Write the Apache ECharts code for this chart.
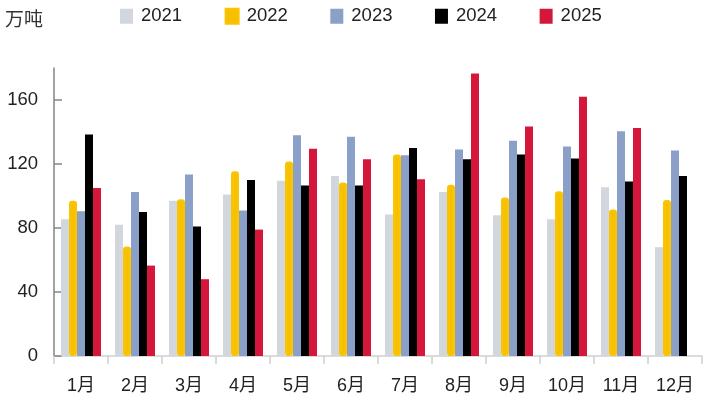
<!DOCTYPE html>
<html>
<head>
<meta charset="utf-8">
<script src="https://cdn.jsdelivr.net/npm/echarts@6/dist/echarts.min.js"></script>
<style>
html,body{margin:0;padding:0;background:#fff;}
#c{width:704px;height:404px;}
</style>
</head>
<body>
<div id="c"></div>
<script>
var months = ['1月','2月','3月','4月','5月','6月','7月','8月','9月','10月','11月','12月'];
var seriesNames = ['2021','2022','2023','2024','2025'];
var v2021 = [85.5, 82, 97, 101, 109.5, 112.5, 88.5, 102.5, 88, 85.5, 105.5, 68];
var v2022 = [97, 68.5, 98, 115.5, 121.5, 108.5, 126, 107, 99, 103, 91.5, 97.5];
var v2023 = [90.5, 102.5, 113.5, 91, 138, 137, 125.5, 129, 134.5, 131, 140.5, 128.5];
var v2024 = [138.5, 90, 81, 110, 106.5, 106.5, 130, 123, 126, 123.5, 109, 112.5];
var v2025 = [105, 56.5, 48, 79, 129.5, 123, 110.5, 176.5, 143.5, 162, 142.5, null];
var yTicks = [0, 40, 80, 120, 160];
var unitLabel = '万吨';

var colors = ['#d2d6dd', '#f6c000', '#8aa0c8', '#000000', '#d4173a'];
var font = "'Liberation Sans', Arial, 'Noto Sans CJK SC', sans-serif";
var values = [v2021, v2022, v2023, v2024, v2025];

var series = seriesNames.map(function (n, i) {
  var s = {
    name: n,
    type: 'bar',
    data: values[i],
    barWidth: 8,
    barGap: '0%',
    itemStyle: { color: colors[i] }
  };
  if (i === 1) {
    s.itemStyle = { color: colors[i], borderColor: '#fbc400', borderWidth: 2.5, borderRadius: 2 };
  }
  return s;
});

var chart = echarts.init(document.getElementById('c'));
chart.setOption({
  animation: false,
  color: colors,
  textStyle: { fontFamily: font },
  graphic: [{
    type: 'text', left: 5, top: 9,
    style: { text: unitLabel, fontSize: 19, fill: '#333', fontFamily: "'Noto Sans CJK SC', sans-serif" }
  }],
  legend: {
    left: 120, top: 7,
    padding: 0,
    itemWidth: 13, itemHeight: 15,
    itemGap: 42.5,
    icon: 'rect',
    textStyle: { fontSize: 18.5, color: '#222', fontFamily: font, padding: [0, 0, 0, 3] },
    data: seriesNames
  },
  grid: { left: 54, right: 2, top: 68, bottom: 48, containLabel: false },
  xAxis: {
    type: 'category',
    data: months,
    axisLine: { lineStyle: { color: '#cfcfcf', width: 1.5 } },
    axisTick: { show: true, length: 8, lineStyle: { color: '#cfcfcf', width: 1.5 } },
    axisLabel: { fontSize: 18, color: '#222', margin: 21, fontFamily: font }
  },
  yAxis: {
    type: 'value',
    min: 0, max: 180, interval: 20,
    splitLine: { show: false },
    axisLine: { show: true, lineStyle: { color: '#858585', width: 1.5 } },
    axisTick: { show: true, inside: true, length: 8, customValues: yTicks, lineStyle: { color: '#858585', width: 1.5 } },
    axisLabel: { fontSize: 18.5, color: '#222', margin: 16, customValues: yTicks, fontFamily: font }
  },
  series: series
});
</script>
</body>
</html>
